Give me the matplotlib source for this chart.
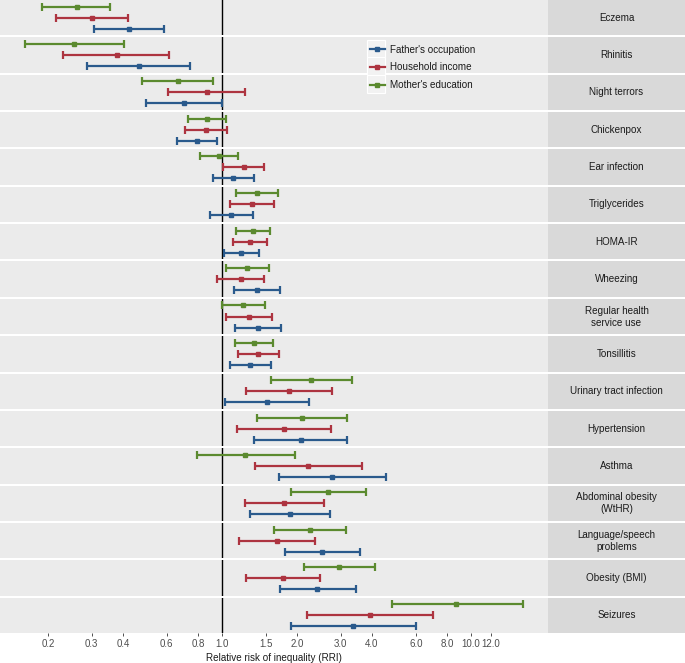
import matplotlib
matplotlib.use("Agg")
import matplotlib.pyplot as plt
from matplotlib.lines import Line2D
from matplotlib.patches import Rectangle
from matplotlib.ticker import FixedLocator, FixedFormatter, NullLocator

plt.rcParams['font.family'] = ['Liberation Sans', 'DejaVu Sans']

outcomes = ["Eczema", "Rhinitis", "Night terrors", "Chickenpox", "Ear infection",
            "Triglycerides", "HOMA-IR", "Wheezing", "Regular health\nservice use",
            "Tonsillitis", "Urinary tract infection", "Hypertension", "Asthma",
            "Abdominal obesity\n(WtHR)", "Language/speech\nproblems", "Obesity (BMI)", "Seizures"]

series = ["Father's occupation", "Household income", "Mother's education"]
colors = ["#2A5A8C", "#AD3440", "#5B8A2F"]

father_lo  = [0.307, 0.287, 0.494, 0.658, 0.920, 0.895, 1.019, 1.120, 1.128, 1.080, 1.028, 1.348, 1.694, 1.299, 1.791, 1.705, 1.898]
father_est = [0.424, 0.463, 0.702, 0.794, 1.110, 1.090, 1.195, 1.386, 1.391, 1.299, 1.516, 2.071, 2.773, 1.875, 2.528, 2.414, 3.350]
father_hi  = [0.585, 0.744, 1.000, 0.957, 1.340, 1.332, 1.404, 1.714, 1.726, 1.569, 2.242, 3.187, 4.540, 2.707, 3.593, 3.443, 6.000]

income_lo  = [0.216, 0.230, 0.607, 0.712, 1.012, 1.074, 1.104, 0.957, 1.038, 1.160, 1.248, 1.149, 1.360, 1.233, 1.170, 1.245, 2.190]
income_est = [0.301, 0.378, 0.868, 0.865, 1.222, 1.316, 1.296, 1.189, 1.287, 1.399, 1.853, 1.774, 2.220, 1.779, 1.659, 1.758, 3.920]
income_hi  = [0.418, 0.614, 1.237, 1.047, 1.475, 1.617, 1.520, 1.475, 1.592, 1.689, 2.758, 2.748, 3.660, 2.560, 2.363, 2.475, 7.060]

mother_lo  = [0.190, 0.162, 0.477, 0.728, 0.816, 1.138, 1.138, 1.038, 0.997, 1.128, 1.569, 1.386, 0.791, 1.893, 1.613, 2.141, 4.830]
mother_est = [0.261, 0.255, 0.664, 0.868, 0.973, 1.378, 1.332, 1.260, 1.218, 1.340, 2.270, 2.090, 1.240, 2.673, 2.256, 2.951, 8.680]
mother_hi  = [0.354, 0.404, 0.920, 1.038, 1.160, 1.679, 1.555, 1.544, 1.488, 1.603, 3.320, 3.177, 1.958, 3.777, 3.147, 4.117, 16.130]

tick_vals = [0.2, 0.3, 0.4, 0.6, 0.8, 1.0, 1.5, 2.0, 3.0, 4.0, 6.0, 8.0, 10.0, 12.0]
tick_labels = ["%.1f" % v for v in tick_vals]

data = [(father_lo, father_est, father_hi),
        (income_lo, income_est, income_hi),
        (mother_lo, mother_est, mother_hi)]
ypos = [3, 2, 1]  # Father bottom, Mother top

W, H = 685, 663
fig = plt.figure(figsize=(W / 100, H / 100), dpi=100)
fig.patch.set_facecolor("white")

panel_left, panel_right, strip_right = 0, 548, 685
total_h = 633
gap = 2
n = len(outcomes)
ph = (total_h - gap * (n - 1)) / n

xmin, xmax = 0.1284, 20.37
FS = 7.1

axes = []
for i, name in enumerate(outcomes):
    top = i * (ph + gap)
    bottom = H - (top + ph)
    ax = fig.add_axes([panel_left / W, bottom / H, (panel_right - panel_left) / W, ph / H])
    ax.set_facecolor("#EBEBEB")
    for s in ax.spines.values():
        s.set_visible(False)
    ax.set_xscale("log")
    ax.set_xlim(xmin, xmax)
    ax.set_ylim(3.6, 0.4)
    ax.yaxis.set_major_locator(NullLocator())
    ax.axvline(1.0, color="black", lw=1.0, zorder=1)
    for k in range(3):
        lo, est, hi = data[k]
        e = est[i]
        ax.errorbar([e], [ypos[k]], xerr=[[e - lo[i]], [hi[i] - e]], fmt="s",
                    color=colors[k], ecolor=colors[k], elinewidth=1.6, capsize=3.2,
                    capthick=1.6, markersize=2.8, zorder=3)
    ax.xaxis.set_minor_locator(NullLocator())
    ax.xaxis.set_major_locator(FixedLocator(tick_vals))
    if i == n - 1:
        ax.xaxis.set_major_formatter(FixedFormatter(tick_labels))
        ax.tick_params(axis="x", length=2.5, width=0.6, color="#333333",
                       labelsize=7.0, labelcolor="#4D4D4D", pad=2)
        ax.set_xlabel("Relative risk of inequality (RRI)", fontsize=FS,
                      color="#1A1A1A", labelpad=2.5)
    else:
        ax.tick_params(axis="x", length=0, labelbottom=False)
    axes.append(ax)

    sax = fig.add_axes([panel_right / W, bottom / H, (strip_right - panel_right) / W, ph / H])
    sax.set_facecolor("#D9D9D9")
    sax.set_xticks([])
    sax.set_yticks([])
    for s in sax.spines.values():
        s.set_visible(False)
    sax.text(0.5, 0.5, name, ha="center", va="center", fontsize=FS,
             color="#1A1A1A", transform=sax.transAxes, linespacing=1.25)

# legend key backgrounds
key_x0, key_w = 367.3, 18.0
key_centers = [48.7, 66.3, 84.0]
for yc in key_centers:
    fig.patches.append(Rectangle((key_x0 / W, 1 - (yc + 9) / H), key_w / W, 18 / H,
                                 transform=fig.transFigure, facecolor="#F2F2F2",
                                 edgecolor="white", lw=0.8, zorder=2))

handles = [Line2D([0], [0], color=c, lw=1.6, marker="s", markersize=2.8) for c in colors]
leg = fig.legend(handles, series, loc="upper left",
                 bbox_to_anchor=(363 / W, 1 - 37.7 / H), frameon=False,
                 fontsize=FS, handlelength=1.5, handletextpad=0.5,
                 labelspacing=0.80, borderpad=0.2)
leg.set_zorder(5)
for t in leg.get_texts():
    t.set_color("#1A1A1A")

fig.savefig("out.png", dpi=100, facecolor="white")
